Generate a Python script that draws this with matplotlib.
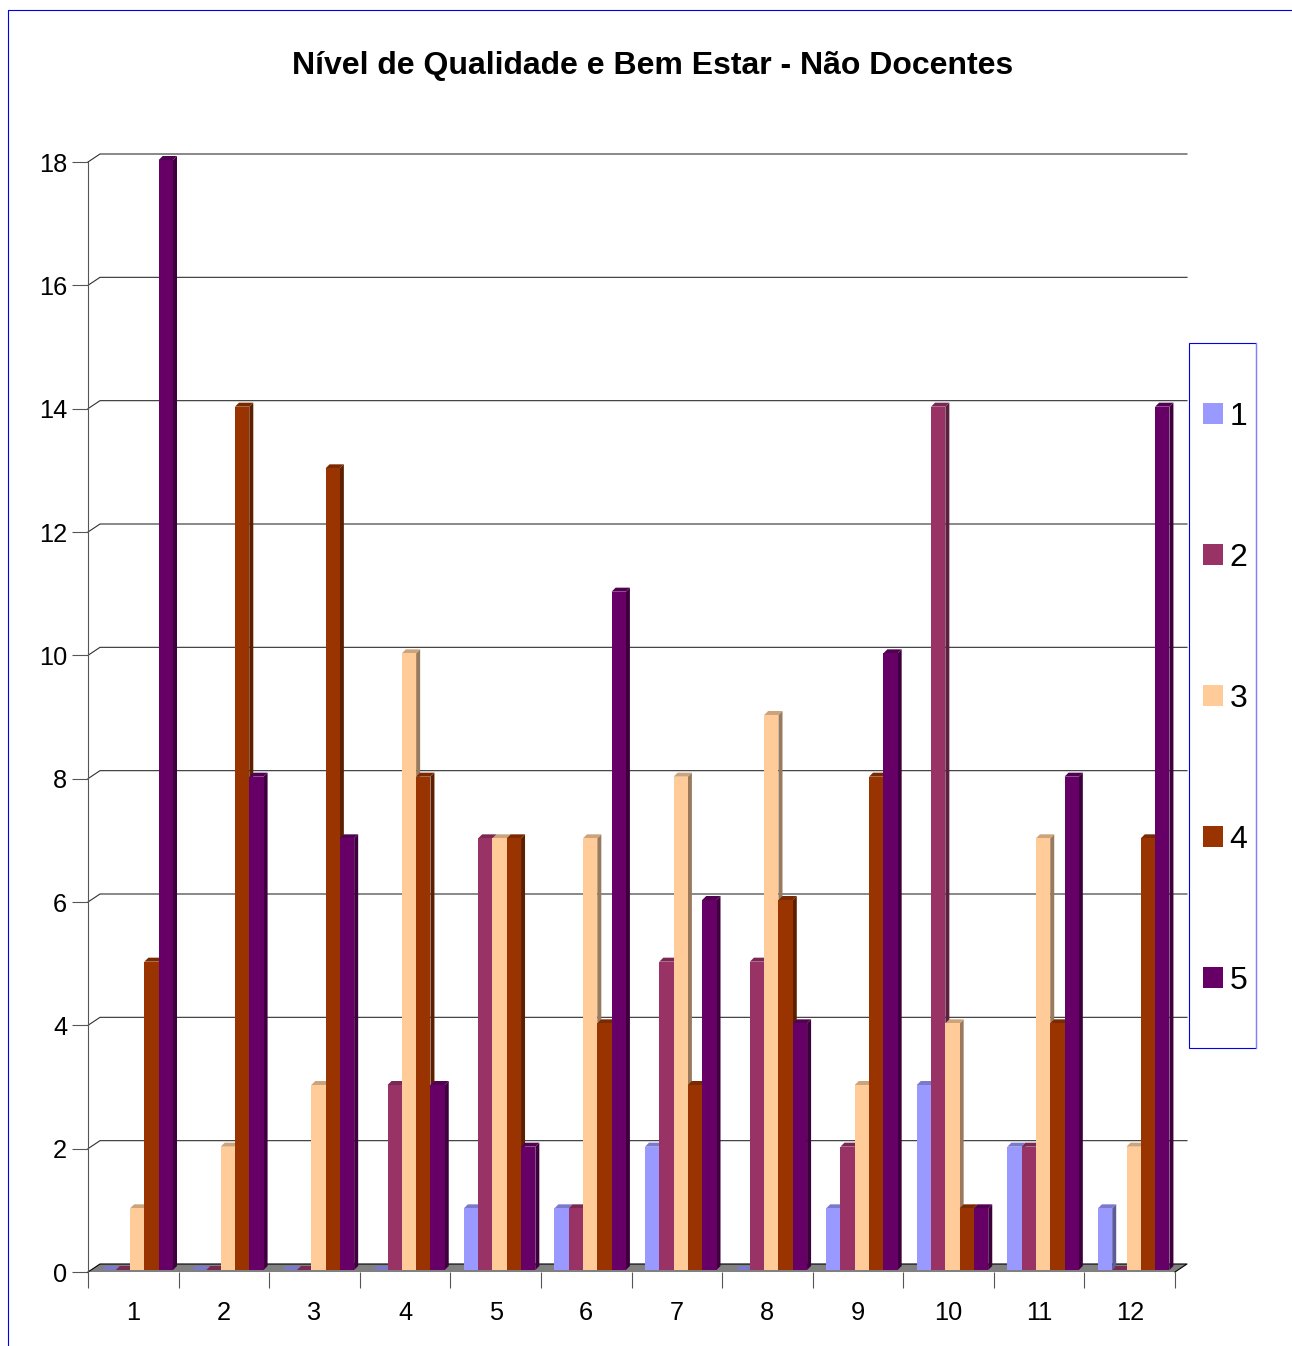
import matplotlib
matplotlib.use('Agg')
import matplotlib.pyplot as plt
from matplotlib.lines import Line2D
from matplotlib.patches import Patch, Polygon, Rectangle
from matplotlib.transforms import Affine2D
from matplotlib.colors import to_rgb

plt.rcParams['font.family'] = ['Liberation Sans', 'DejaVu Sans']

# Answers per question, one list per rating level
categories = ['1', '2', '3', '4', '5', '6', '7', '8', '9', '10', '11', '12']
level_1 = [0, 0, 0, 0, 1, 1, 2, 0, 1, 3, 2, 1]
level_2 = [0, 0, 0, 3, 7, 1, 5, 5, 2, 14, 2, 0]
level_3 = [1, 2, 3, 10, 7, 7, 8, 9, 3, 4, 7, 2]
level_4 = [5, 14, 13, 8, 7, 4, 3, 6, 8, 1, 4, 7]
level_5 = [18, 8, 7, 3, 2, 11, 6, 4, 10, 1, 8, 14]
levels = [level_1, level_2, level_3, level_4, level_5]
level_names = ['1', '2', '3', '4', '5']
colors = ['#9999FF', '#993366', '#FFCC99', '#993300', '#660066']
y_ticks = [0, 2, 4, 6, 8, 10, 12, 14, 16, 18]

W, H = 1292, 1346
fig = plt.figure(figsize=(W / 100, H / 100), dpi=100)
ax = fig.add_axes([88 / W, 1 - 1272 / H, 1087 / W, 1110 / H])
ax.set_xlim(0, 12)
ax.set_ylim(0, 18)
ax.patch.set_alpha(0)

# pixel sizes expressed in data units
ux = 12 / 1087
uy = 18 / 1110
wall_dx, wall_dy = 12 * ux, 8 * uy
bar_dx, bar_dy = 4 * ux, 4 * uy
bar_w = 14.3 * ux
start = 13.5 * ux
lift = 2 * uy


def shade(color, k):
    return tuple(c * k for c in to_rgb(color))


# back wall grid lines with the short diagonal on the left wall
for v in y_ticks[1:]:
    ax.plot([0, wall_dx, 12 + wall_dx], [v, v + wall_dy, v + wall_dy],
            color='#303030', lw=0.8, clip_on=False, zorder=1)

# floor
ax.add_patch(Polygon([(0, 0), (wall_dx, wall_dy), (12 + wall_dx, wall_dy), (12, 0)],
                     closed=True, facecolor='#808080', edgecolor='none',
                     clip_on=False, zorder=2))
ax.plot([0, wall_dx, 12 + wall_dx, 12], [0, wall_dy, wall_dy, 0],
        color='black', lw=0.8, clip_on=False, zorder=2)

# 3D looking bars: front face from ax.bar, side and top as polygons
z = 3
for c in range(len(categories)):
    for s, values in enumerate(levels):
        v = values[c]
        x0 = c + start + s * bar_w
        x1 = x0 + bar_w
        top = v + lift
        if v > 0:
            ax.add_patch(Polygon([(x1, lift), (x1 + bar_dx, lift + bar_dy),
                                  (x1 + bar_dx, top + bar_dy), (x1, top)],
                                 closed=True, facecolor=shade(colors[s], 0.6),
                                 edgecolor='none', clip_on=False, zorder=z))
        ax.add_patch(Polygon([(x0, top), (x0 + bar_dx, top + bar_dy),
                              (x1 + bar_dx, top + bar_dy), (x1, top)],
                             closed=True, facecolor=shade(colors[s], 0.8),
                             edgecolor='none', clip_on=False, zorder=z))
        if v > 0:
            ax.bar(x0, v, width=bar_w, bottom=lift, align='edge', color=colors[s],
                   linewidth=0, clip_on=False, zorder=z + 1)
        z += 2

for side in ['top', 'right', 'bottom']:
    ax.spines[side].set_visible(False)
ax.spines['left'].set_color('#555555')
ax.spines['left'].set_linewidth(0.8)

ax.set_yticks(y_ticks)
ax.set_xticks(range(13))
ax.set_xticklabels([])
ax.set_xticks([i + 0.5 for i in range(12)], minor=True)
ax.set_xticklabels(categories, minor=True)
ax.tick_params(axis='y', length=11.5, width=0.8, color='#555555', pad=3.5, labelsize=18.3)
ax.tick_params(axis='x', which='major', length=11.5, width=0.8, color='#555555')
ax.tick_params(axis='x', which='minor', length=0, pad=21, labelsize=18.3)

fig.text(653 / W, 1 - 66 / H, 'Nível de Qualidade e Bem Estar - Não Docentes',
         ha='center', va='center', fontsize=23.05, fontweight='bold')

# decorations placed in pixels measured from the top left corner
px = Affine2D().scale(1, -1).translate(0, H)
fig.add_artist(Line2D([7.5, 7.5, W], [H, 9.5, 9.5], transform=px, color='#0000EE', lw=0.8))
fig.add_artist(Rectangle((1188.5, 342.5), 67, 705, transform=px, fill=False,
                         edgecolor='#0000EE', lw=0.8))
fig.add_artist(Line2D([1255.5, 1255.5], [342.5, 1047.5], transform=px, color='#8080FF', lw=0.9))

handles = [Patch(facecolor=c, edgecolor='none') for c in colors]
fig.legend(handles, level_names, frameon=False, fontsize=23, loc='upper left',
           bbox_to_anchor=(1203 / W, 1 - 402 / H), borderpad=0, borderaxespad=0,
           handlelength=0.625, handleheight=0.625, handletextpad=0.2, labelspacing=3.475)

fig.savefig('out.png', dpi=100)
